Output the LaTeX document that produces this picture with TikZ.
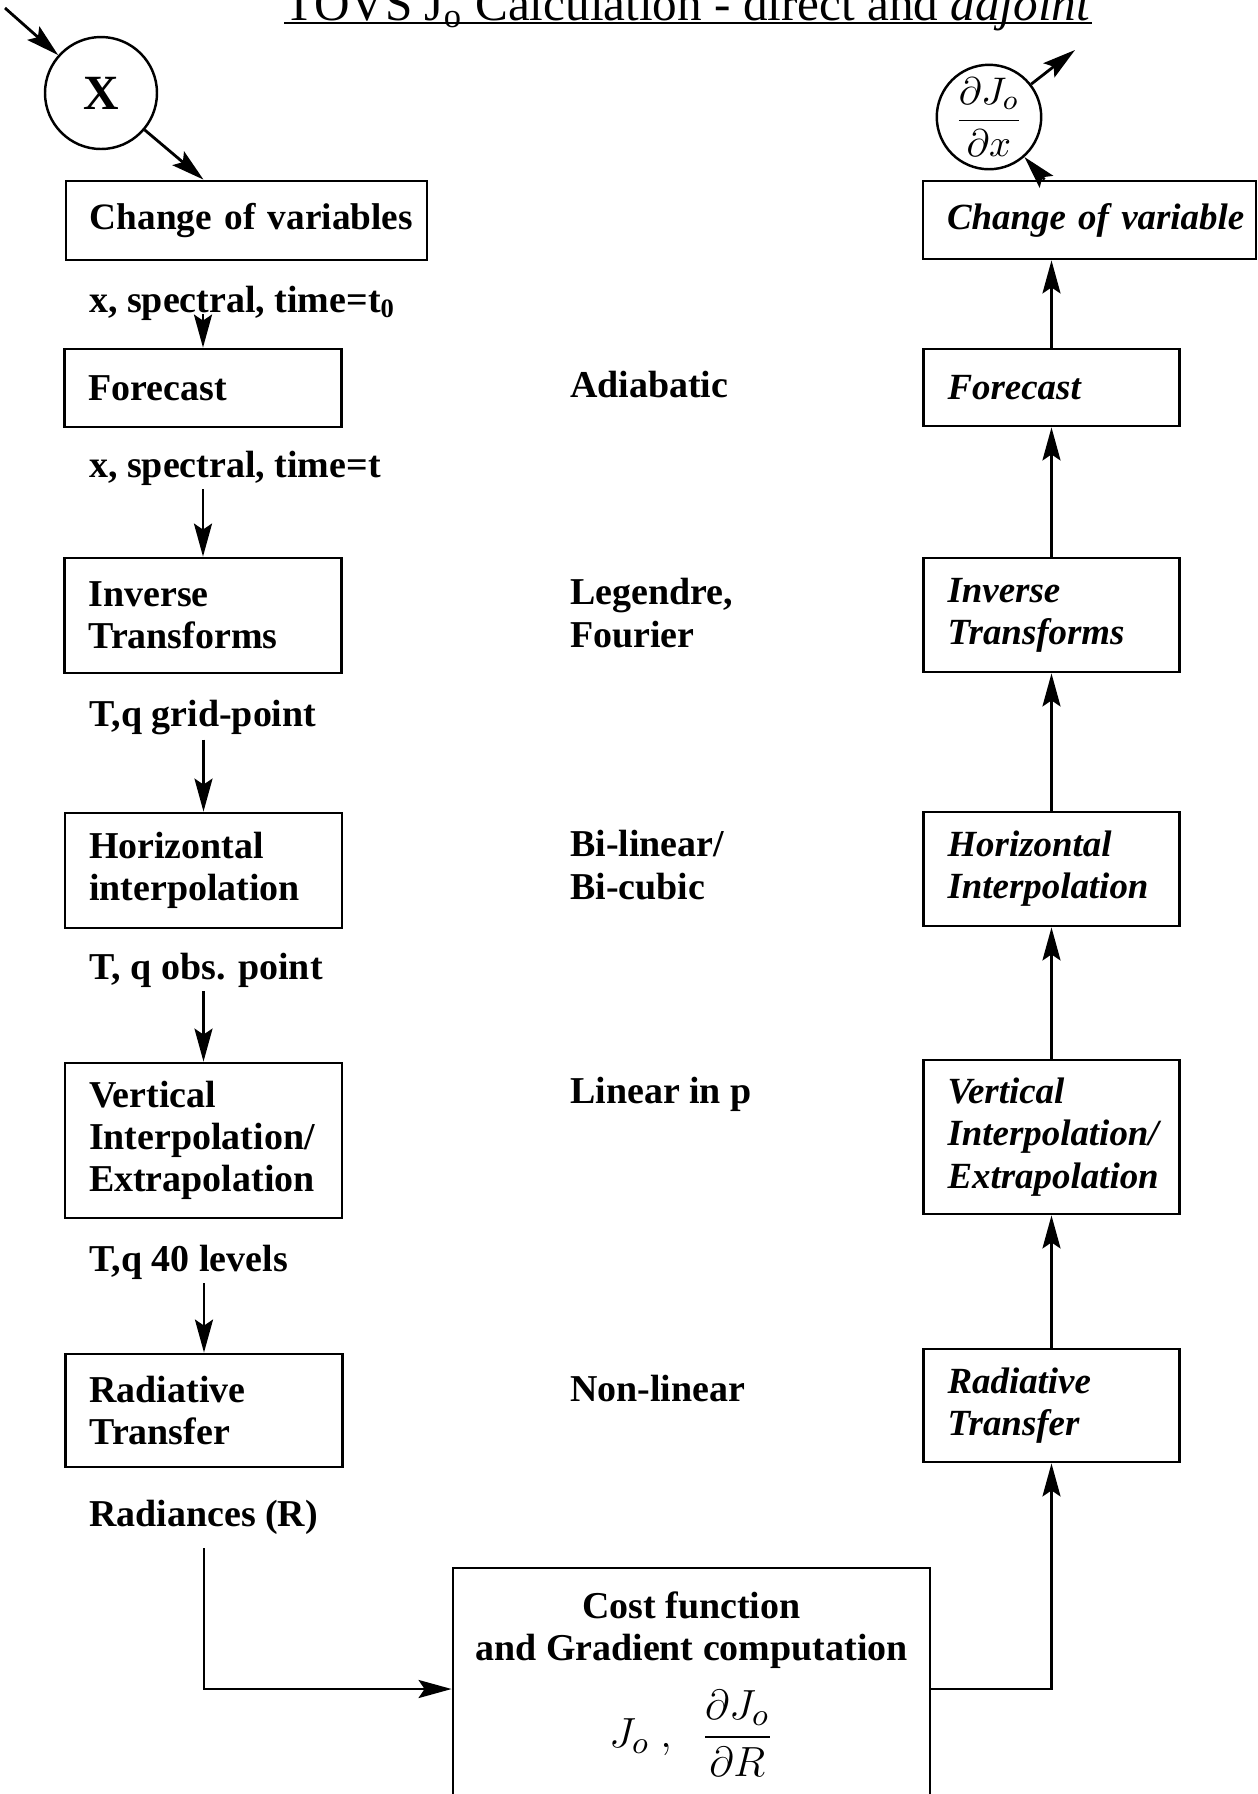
\documentclass[tikz,border=0pt]{standalone}
\usepackage{fontspec}
\setmainfont{Liberation Serif}
\usetikzlibrary{arrows.meta,positioning,calc}
\hyphenpenalty=10000
\exhyphenpenalty=10000

\begin{document}
\fontsize{10.8}{12}\selectfont
\begin{tikzpicture}[
    procbox/.style={draw, line width=0.8pt, rectangle, inner xsep=0.24cm, inner ysep=0pt, align=left, text width=2.29cm, font=\bfseries},
    adjbox/.style={procbox, text width=2.08cm, font=\bfseries\itshape\fontsize{10.5}{12}\selectfont},
    varcircle/.style={draw, circle, line width=0.7pt, inner sep=0pt},
    flowlabel/.style={anchor=west, inner sep=1pt, align=left, font=\bfseries},
    arrow/.style={line width=0.8pt, -{Stealth[length=3.3mm, width=1.8mm, inset=0.6mm]}}
]
\path[fill=white, use as bounding box] (0,0) rectangle (12.58,-17.94);

% Title
\node[anchor=base, inner sep=0pt, font=\fontsize{14}{16}\selectfont] (title) at (6.88,-0.20) {TOVS J\textsubscript{o} Calculation - direct and \textit{adjoint}};
\draw[line width=0.8pt] ([yshift=-0.03cm]title.base west) -- ([yshift=-0.03cm]title.base east);

% Direct model (left)
\node[varcircle, minimum size=1.12cm, font=\bfseries\fontsize{14}{16}\selectfont] (xvar) at (1.01,-0.93) {X};
\coordinate (xin) at (0.05,-0.08);
\node[procbox, text width=3.13cm, minimum height=0.79cm, font=\bfseries\fontsize{10.6}{12}\selectfont] (chg) at (2.465,-2.205) {\mbox{Change of variables}};
\node[flowlabel] (lbl0) at (0.85,-3.03) {x, spectral, time=t\textsubscript{0}};
\node[procbox, minimum height=0.78cm] (fcst) at (2.03,-3.88) {Forecast};
\node[flowlabel] (lbl1) at (0.85,-4.68) {x, spectral, time=t};
\node[procbox, minimum height=1.15cm] (inv) at (2.03,-6.155) {Inverse\\Transforms};
\node[flowlabel] (lbl2) at (0.85,-7.18) {T,q grid-point};
\node[procbox, minimum height=1.15cm] (hor) at (2.035,-8.705) {Horizontal\\interpolation};
\node[flowlabel] (lbl3) at (0.85,-9.70) {T, q obs. point};
\node[procbox, minimum height=1.55cm] (vert) at (2.035,-11.405) {Vertical\\Interpolation/\\Extrapolation};
\node[flowlabel] (lbl4) at (0.85,-12.62) {T,q 40 levels};
\node[procbox, minimum height=1.13cm] (rad) at (2.04,-14.105) {Radiative\\Transfer};
\node[flowlabel] (lbl5) at (0.85,-15.17) {Radiances (R)};

% Methods (middle)
\node[flowlabel] (adiab) at (5.66,-3.84) {Adiabatic};
\node[flowlabel] (legfour) at (5.66,-6.13) {Legendre,\\Fourier};
\node[flowlabel] (bilin) at (5.66,-8.65) {Bi-linear/\\Bi-cubic};
\node[flowlabel] (linp) at (5.66,-10.94) {Linear in p};
\node[flowlabel] (nonlin) at (5.66,-13.88) {Non-linear};

% Adjoint model (right)
\node[varcircle, minimum size=1.04cm, font=\fontsize{11}{13}\selectfont] (dJ) at (9.89,-1.17) {$\displaystyle\frac{\partial J_o}{\partial x}$};
\coordinate (dJout) at (10.75,-0.50);
\node[adjbox, text width=2.85cm, minimum height=0.78cm] (chgR) at (10.895,-2.20) {\mbox{Change of variable}};
\node[adjbox, minimum height=0.77cm] (fcstR) at (10.515,-3.875) {Forecast};
\node[adjbox, minimum height=1.14cm] (invR) at (10.515,-6.15) {Inverse\\Transforms};
\node[adjbox, minimum height=1.14cm] (horR) at (10.515,-8.69) {Horizontal\\Interpolation};
\node[adjbox, minimum height=1.54cm] (vertR) at (10.515,-11.37) {Vertical\\Interpolation/\\Extrapolation};
\node[adjbox, minimum height=1.13cm] (radR) at (10.515,-14.055) {Radiative\\Transfer};

% Cost function
\node[draw, line width=0.8pt, minimum width=4.77cm, minimum height=2.42cm] (cost) at (6.915,-16.89) {};
\node[anchor=north, align=center, inner sep=0pt, font=\bfseries] (costtxt) at ([yshift=-0.24cm]cost.north) {Cost function\\and Gradient computation\\[0.18cm]{\fontsize{12.5}{14}\selectfont$J_o\ ,\ \ {\displaystyle\frac{\partial J_o}{\partial R}}$}};

% Arrows
\draw [arrow] (xin) -- (xvar);
\draw [arrow] (xvar) -- ([xshift=-0.43cm]chg.north);
\draw [arrow] ([yshift=0.1cm]lbl0.south -| fcst.north) -- (fcst.north);
\draw [arrow] (lbl1.south -| inv.north) -- (inv.north);
\draw [arrow] (lbl2.south -| hor.north) -- (hor.north);
\draw [arrow] (lbl3.south -| vert.north) -- (vert.north);
\draw [arrow] (lbl4.south -| rad.north) -- (rad.north);
\draw [arrow, shorten <=0.1cm] (lbl5.south -| rad.south) |- (cost.west);
\draw [arrow] (cost.east) -| (radR.south);
\draw [arrow] (radR.north) -- (vertR.south);
\draw [arrow] (vertR.north) -- (horR.south);
\draw [arrow] (horR.north) -- (invR.south);
\draw [arrow] (invR.north) -- (fcstR.south);
\draw [arrow] (fcstR.north) -- (fcstR.north |- chgR.south);
\draw [arrow] ([xshift=-0.45cm]chgR.north) -- (dJ);
\draw [arrow] (dJ) -- (dJout);

\end{tikzpicture}
\end{document}
